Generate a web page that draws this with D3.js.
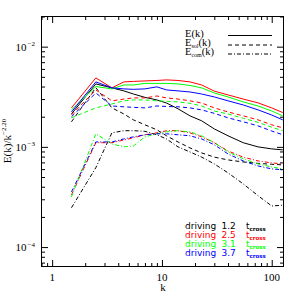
<!DOCTYPE html>
<html><head><meta charset="utf-8">
<script src="https://cdn.jsdelivr.net/npm/d3@7"></script>
<style>body{margin:0;background:#fff}svg{display:block}</style>
</head><body>
<script>
// wavenumbers
const kValues = [1.5, 2.5, 3.5, 4.5, 5.5, 7, 9, 11, 14, 18, 23, 30, 40, 55, 75, 100, 126];

// driving 1.2 t_cross (black)
const eTot12 = [2.13e-3, 4.25e-3, 3.88e-3, 3.62e-3, 3.37e-3, 3.12e-3, 2.94e-3, 2.74e-3, 2.40e-3, 2.04e-3, 1.82e-3, 1.51e-3, 1.29e-3, 1.10e-3, 1.00e-3, 9.55e-4, 9.33e-4];
const eSol12 = [1.78e-3, 3.90e-3, 2.45e-3, 2.13e-3, 1.86e-3, 1.66e-3, 1.48e-3, 1.29e-3, 1.12e-3, 9.77e-4, 8.7e-4, 7.9e-4, 7.41e-4, 7.07e-4, 6.85e-4, 6.7e-4, 6.61e-4];
const eCom12 = [2.47e-4, 6.2e-4, 1.38e-3, 1.45e-3, 1.45e-3, 1.43e-3, 1.32e-3, 1.20e-3, 1.00e-3, 8.9e-4, 7.9e-4, 6.76e-4, 5.5e-4, 4.27e-4, 3.26e-4, 2.57e-4, 2.62e-4];

// driving 2.5 t_cross (red)
const eTot25 = [2.45e-3, 4.88e-3, 3.88e-3, 4.45e-3, 4.50e-3, 4.55e-3, 4.60e-3, 4.66e-3, 4.60e-3, 4.45e-3, 4.15e-3, 3.60e-3, 3.30e-3, 3.00e-3, 2.75e-3, 2.45e-3, 2.20e-3];
const eSol25 = [2.08e-3, 3.70e-3, 2.88e-3, 3.00e-3, 3.08e-3, 3.08e-3, 3.22e-3, 3.08e-3, 3.00e-3, 2.88e-3, 2.74e-3, 2.45e-3, 2.23e-3, 2.04e-3, 1.86e-3, 1.66e-3, 1.55e-3];
const eCom25 = [3.32e-4, 1.10e-3, 1.10e-3, 1.17e-3, 1.23e-3, 1.32e-3, 1.38e-3, 1.45e-3, 1.45e-3, 1.38e-3, 1.26e-3, 1.10e-3, 9.1e-4, 7.9e-4, 7.24e-4, 6.92e-4, 6.76e-4];

// driving 3.1 t_cross (green)
const eTot31 = [2.34e-3, 4.00e-3, 3.79e-3, 4.15e-3, 4.15e-3, 4.30e-3, 4.30e-3, 4.30e-3, 4.25e-3, 4.10e-3, 3.88e-3, 3.45e-3, 3.15e-3, 2.81e-3, 2.56e-3, 2.28e-3, 2.04e-3];
const eSol31 = [1.95e-3, 2.45e-3, 2.68e-3, 2.88e-3, 2.94e-3, 2.94e-3, 2.88e-3, 2.85e-3, 2.81e-3, 2.72e-3, 2.56e-3, 2.28e-3, 2.13e-3, 1.93e-3, 1.76e-3, 1.57e-3, 1.45e-3];
const eCom31 = [3.17e-4, 1.35e-3, 1.07e-3, 1.00e-3, 1.02e-3, 1.26e-3, 1.35e-3, 1.41e-3, 1.45e-3, 1.41e-3, 1.29e-3, 1.10e-3, 8.9e-4, 7.6e-4, 6.76e-4, 6.3e-4, 6.03e-4];

// driving 3.7 t_cross (blue)
const eTot37 = [2.23e-3, 4.45e-3, 3.88e-3, 3.79e-3, 3.75e-3, 3.79e-3, 3.97e-3, 3.70e-3, 3.62e-3, 3.53e-3, 3.37e-3, 3.15e-3, 2.88e-3, 2.62e-3, 2.34e-3, 2.08e-3, 1.86e-3];
const eSol37 = [2.00e-3, 3.45e-3, 2.56e-3, 2.51e-3, 2.48e-3, 2.45e-3, 2.56e-3, 2.53e-3, 2.51e-3, 2.45e-3, 2.34e-3, 2.16e-3, 1.95e-3, 1.78e-3, 1.62e-3, 1.44e-3, 1.32e-3];
const eCom37 = [3.55e-4, 1.12e-3, 1.12e-3, 1.20e-3, 1.26e-3, 1.32e-3, 1.35e-3, 1.35e-3, 1.32e-3, 1.29e-3, 1.20e-3, 1.05e-3, 8.5e-4, 7.24e-4, 6.45e-4, 6.03e-4, 5.9e-4];

const runLabels = ["1.2", "2.5", "3.1", "3.7"];
const runColors = ["#000000", "#ff0000", "#00ff00", "#0000ff"];
const xMajorTicks = [1, 10, 100];
const xTickLabels = ["1", "10", "100"];
const yMajorTicks = [1e-2, 1e-3, 1e-4];
const yTickExponents = ["\u22122", "\u22123", "\u22124"];

const runs = [
  {tot: eTot12, sol: eSol12, com: eCom12},
  {tot: eTot25, sol: eSol25, com: eCom25},
  {tot: eTot31, sol: eSol31, com: eCom31},
  {tot: eTot37, sol: eSol37, com: eCom37}
];

const W = 299, H = 299;
const L = 41.5, R = 283.5, T = 16.5, B = 266.5;
const x = d3.scaleLog().domain([0.8, 128]).range([L, R]);
const y = d3.scaleLog().domain([6.4e-5, 0.02]).range([B, T]);

const svg = d3.select("body").append("svg").attr("width", W).attr("height", H);
const serif = "'Liberation Serif','DejaVu Serif',serif";

const isMajor = v => Math.abs(Math.log10(v) - Math.round(Math.log10(v))) < 1e-6;
const xMinor = x.ticks().filter(v => !isMajor(v));
const yMinor = y.ticks().filter(v => !isMajor(v));

function styleAxis(g) {
  g.select(".domain").remove();
  g.selectAll(".tick line").attr("stroke", "#000").attr("stroke-width", 1);
  g.selectAll(".tick text").remove();
}
const MJ = 6.5, MN = 3.5;
[[d3.axisBottom, B], [d3.axisTop, T]].forEach(([fn, pos]) => {
  svg.append("g").attr("transform", `translate(0,${pos})`).call(fn(x).tickValues(xMajorTicks).tickSize(-MJ).tickFormat("")).call(styleAxis);
  svg.append("g").attr("transform", `translate(0,${pos})`).call(fn(x).tickValues(xMinor).tickSize(-MN).tickFormat("")).call(styleAxis);
});
[[d3.axisLeft, L], [d3.axisRight, R]].forEach(([fn, pos]) => {
  svg.append("g").attr("transform", `translate(${pos},0)`).call(fn(y).tickValues(yMajorTicks).tickSize(-MJ).tickFormat("")).call(styleAxis);
  svg.append("g").attr("transform", `translate(${pos},0)`).call(fn(y).tickValues(yMinor).tickSize(-MN).tickFormat("")).call(styleAxis);
});

svg.append("rect").attr("x", L).attr("y", T).attr("width", R - L).attr("height", B - T)
  .attr("fill", "none").attr("stroke", "#000").attr("stroke-width", 1);

// tick labels
svg.append("g").selectAll("text").data(xMajorTicks).join("text")
  .attr("x", d => x(d)).attr("y", 280.5).attr("text-anchor", "middle")
  .attr("font-family", serif).attr("font-size", 11)
  .text((d, i) => xTickLabels[i]);

const yl = svg.append("g").selectAll("text").data(yMajorTicks).join("text")
  .attr("x", 26.5).attr("y", d => y(d) + 4).attr("text-anchor", "end")
  .attr("font-family", serif).attr("font-size", 11);
yl.append("tspan").text("10");
yl.append("tspan").attr("x", 27.5).attr("dy", -4.5).attr("font-size", 7).attr("text-anchor", "start").text((d, i) => yTickExponents[i]);

// axis titles
svg.append("text").attr("x", 163).attr("y", 291).attr("text-anchor", "middle")
  .attr("font-family", serif).attr("font-size", 11).text("k");
const yt = svg.append("text").attr("transform", "translate(10.5,141) rotate(-90)")
  .attr("text-anchor", "middle").attr("font-family", serif).attr("font-size", 11);
yt.append("tspan").text("E(k)/k");
yt.append("tspan").attr("dy", -4.5).attr("font-size", 7).text("\u22122.20");

// curves
const line = d3.line().x((d, i) => x(kValues[i])).y(d => y(d));
const dashes = {tot: null, sol: "4,3", com: "4,2,1,2"};
svg.append("clipPath").attr("id", "c").append("rect")
  .attr("x", L).attr("y", T).attr("width", R - L).attr("height", B - T);
const plot = svg.append("g").attr("clip-path", "url(#c)");
runs.forEach((r, ri) => {
  ["com", "sol", "tot"].forEach(key => {
    plot.append("path").datum(r[key]).attr("d", line)
      .attr("fill", "none").attr("stroke", runColors[ri]).attr("stroke-width", 1)
      .attr("stroke-dasharray", dashes[key]);
  });
});

// top legend
const legRows = [
  {sub: null, dash: null, base: 37, ly: 35.5},
  {sub: "sol", dash: "4,3", base: 46, ly: 45},
  {sub: "com", dash: "4,2,1,2", base: 55, ly: 54}
];
legRows.forEach(r => {
  const t = svg.append("text").attr("x", 185).attr("y", r.base).attr("font-family", serif).attr("font-size", 10.5);
  t.append("tspan").text("E");
  if (r.sub) {
    t.append("tspan").attr("dy", 1.5).attr("font-size", 6).text(r.sub);
    t.append("tspan").attr("dy", -1.5).text("(k)");
  } else {
    t.append("tspan").text("(k)");
  }
  svg.append("line").attr("x1", 228).attr("x2", 272).attr("y1", r.ly).attr("y2", r.ly)
    .attr("stroke", "#000").attr("stroke-width", 1).attr("stroke-dasharray", r.dash);
});

// bottom legend
runLabels.forEach((lab, i) => {
  const by = 228.5 + i * 9;
  const g = svg.append("g").attr("fill", runColors[i]).attr("font-family", "'DejaVu Sans',sans-serif").attr("font-size", 9);
  g.append("text").attr("x", 185).attr("y", by).text("driving");
  g.append("text").attr("x", 221.5).attr("y", by).text(lab);
  const t = g.append("text").attr("x", 246).attr("y", by);
  t.append("tspan").text("t");
  t.append("tspan").attr("dy", 2).attr("font-size", 5.5).attr("font-weight", "bold").text("cross");
});
</script>
</body></html>
